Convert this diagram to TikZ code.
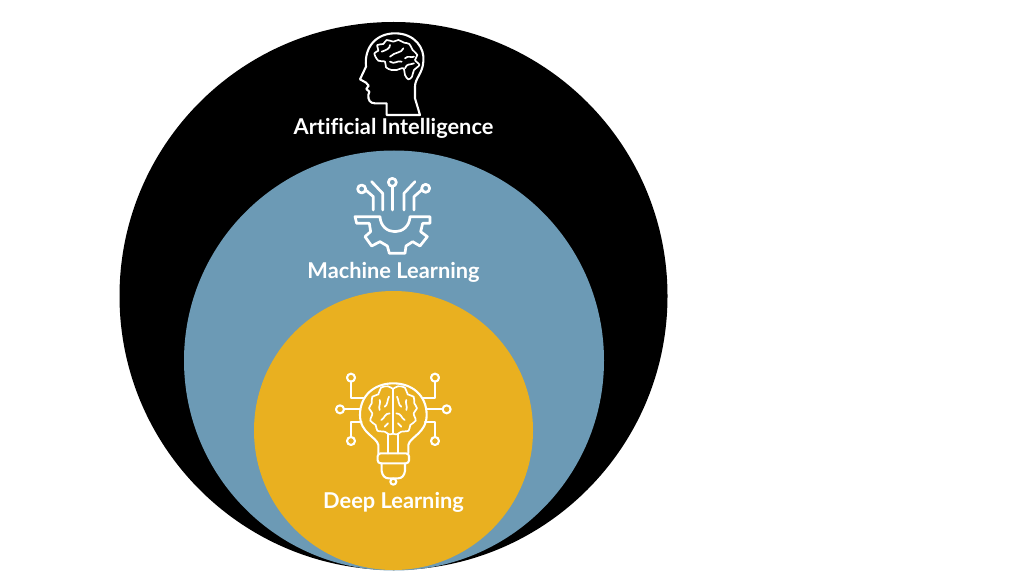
\documentclass[tikz,border=0pt]{standalone}
\usepackage{fontspec}
\setmainfont[Ligatures=NoCommon]{Lato}
\definecolor{mlblue}{HTML}{6C9AB5}
\definecolor{dlgold}{HTML}{E9B020}
\tikzset{
 disc/.style={circle,inner sep=0pt,outer sep=0pt,draw=none},
 lbl/.style={text=white,font=\fontsize{21.8}{24}\selectfont\bfseries,inner sep=0pt},
 icon/.style={draw=white,line width=2.1pt,line cap=round,line join=round,fill=none},
 brain/.style={icon,line width=1.7pt},
 gearline/.style={icon,line width=2.7pt}
}
\begin{document}
\begin{tikzpicture}[x=1pt,y=-1pt]
\useasboundingbox (0,0) rectangle (1030,580);
\fill[white] (0,0) rectangle (1030,580);
\node[disc,fill=black,minimum size=548pt] (ai) at (393.5,296) {};
\node[disc,fill=mlblue,minimum size=420pt] (ml) at (394,360.5) {};
\node[disc,fill=dlgold,minimum size=279pt] (dl) at (393.5,430.5) {};
\node[lbl] (ailabel) at (393.5,128) {Artificial Intelligence};
\node[lbl] (mllabel) at (393.5,272) {Machine Learning};
\node[lbl] (dllabel) at (393.5,502) {Deep Learning};
% head icon
\begin{scope}[shift={(340,20)},x=0.3333pt,y=-0.3333pt]
\draw[icon] (140,285) -- (140,250) -- (105,250) .. controls (90,250) and (84,240) .. (85,225)
 -- (88,215) -- (79,207) -- (86,197) -- (78,188) -- (60,178) -- (78,140)
 .. controls (72,80) and (110,40) .. (165,40) .. controls (225,40) and (255,85) .. (250,125)
 .. controls (248,160) and (225,175) .. (225,200) -- (225,235) -- (240,285) -- cycle;
\draw[brain] plot[smooth cycle,tension=0.6] coordinates {(103,100)(115,92)(112,75)(130,72)(140,60)(160,65)(175,60)(192,68)(208,72)(218,90)(232,105)(225,120)(238,135)(222,150)(216,170)(205,178)(195,165)(190,145)(170,150)(155,150)(138,142)(135,125)(115,122)};
\draw[brain] (125,95) .. controls (140,90) and (150,85) .. (150,75);
\draw[brain] (150,110) .. controls (165,95) and (185,100) .. (190,85);
\draw[brain] (150,125) .. controls (165,135) and (170,120) .. (185,125);
\draw[brain] (195,115) .. controls (205,105) and (215,115) .. (222,110);
\draw[brain] (195,145) .. controls (200,130) and (210,135) .. (222,130);
\end{scope}
% gear icon
\begin{scope}[shift={(330,170)},x=0.3333pt,y=-0.3333pt]
\draw[gearline] (75,140) -- (150,140) .. controls (153,200) and (237,200) .. (240,140) -- (300,140) -- (300,160) -- (278,160) -- (272,185) -- (292,200) -- (270,228) -- (248,215) -- (228,228) -- (225,250) -- (178,250) -- (172,228) -- (150,215) -- (125,228) -- (105,200) -- (122,185) -- (118,160) -- (80,160) -- cycle;
\draw[gearline] (187,37) circle[radius=12];
\draw[gearline] (95,57) circle[radius=12];
\draw[gearline] (287,55) circle[radius=12];
\draw[gearline] (187,50) -- (187,120);
\draw[gearline] (107,60) -- (130,80) -- (130,120);
\draw[gearline] (125,35) -- (158,70) -- (158,120);
\draw[gearline] (255,35) -- (222,70) -- (222,120);
\draw[gearline] (275,60) -- (252,80) -- (252,120);
\end{scope}
% bulb icon
\begin{scope}[shift={(325,365)},x=0.3333pt,y=-0.3333pt]
\draw[icon] (160,265) -- (160,240) .. controls (155,215) and (105,205) .. (105,150) .. controls (105,90) and (150,55) .. (205,55) .. controls (260,55) and (305,90) .. (305,150) .. controls (305,205) and (255,215) .. (250,240) -- (250,265);
\draw[icon,rounded corners=3pt] (158,265) rectangle (252,295);
\draw[icon] (170,295) -- (170,318) .. controls (172,332) and (180,340) .. (190,340) -- (220,340) .. controls (230,340) and (238,332) .. (240,318) -- (240,295);
\draw[icon] (205,350) circle[radius=9];
\draw[icon] (190,208) -- (190,265) (218,208) -- (218,265);
\draw[brain] (204,72) -- (204,205);
\foreach \s/\o in {1/204,-1/204}{
 \begin{scope}[shift={(\o,0)},xscale=\s]
 \draw[brain] plot[smooth,tension=0.6] coordinates {(0,72)(-15,64)(-36,68)(-44,88)(-62,95)(-64,115)(-72,130)(-62,145)(-68,167)(-52,180)(-47,197)(-25,200)(-12,208)(0,206)};
 \draw[brain] (-12,95) .. controls (-18,105) and (-15,120) .. (-25,125);
 \draw[brain] (-40,105) .. controls (-35,112) and (-45,125) .. (-40,135);
 \draw[brain] (-10,145) .. controls (-25,145) and (-25,160) .. (-35,165);
 \draw[brain] (-15,175) -- (-25,185);
 \end{scope}
}
\foreach \x/\y in {45/133,78/38,78/228,365/133,330/38,330/228}
 \draw[icon] (\x,\y) circle[radius=12];
\draw[icon] (57,133) -- (105,133);
\draw[icon] (78,50) -- (78,100) -- (115,100);
\draw[icon] (78,216) -- (78,170) -- (110,170);
\draw[icon] (353,133) -- (305,133);
\draw[icon] (330,50) -- (330,100) -- (295,100);
\draw[icon] (330,216) -- (330,170) -- (300,170);
\end{scope}
\end{tikzpicture}
\end{document}
